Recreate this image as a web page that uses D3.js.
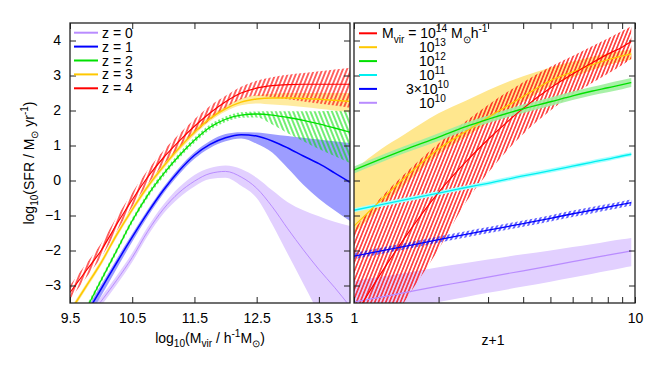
<!DOCTYPE html>
<html><head><meta charset="utf-8">
<script src="https://cdn.jsdelivr.net/npm/d3@7"></script>
<style>
body{margin:0;background:#fff;}
text{font-family:"Liberation Sans",Arial,Helvetica,sans-serif;fill:#000;}
</style></head>
<body><svg id="c" width="654" height="374"></svg>
<script>
// ---------- Left panel data: log10 SFR vs log10 Mvir ----------
const massGrid = [9.5,9.75,10.0,10.25,10.5,10.75,11.0,11.25,11.5,11.75,12.0,12.25,12.5,12.75,13.0,13.25,13.5,13.75,14.0];
const sfrZ0   = [-4.6,-4.0,-3.45,-2.85,-2.2,-1.45,-0.82,-0.35,-0.02,0.2,0.26,0.1,-0.22,-0.75,-1.38,-1.98,-2.54,-3.05,-3.6];
const sfrZ0Hi = [-4.45,-3.86,-3.32,-2.72,-2.07,-1.32,-0.69,-0.2,0.16,0.36,0.43,0.33,0.08,-0.28,-0.62,-0.85,-1.02,-1.18,-1.3];
const sfrZ0Lo = [-4.75,-4.14,-3.58,-2.98,-2.33,-1.58,-0.95,-0.5,-0.17,0.04,0.08,-0.15,-0.5,-1.25,-2.1,-2.95,-3.8,-4.6,-5.4];
const sfrZ1   = [-4.6,-3.85,-3.1,-2.35,-1.62,-0.92,-0.28,0.27,0.72,1.03,1.22,1.31,1.27,1.13,0.93,0.7,0.48,0.22,-0.05];
const sfrZ1Hi = [-4.48,-3.73,-2.98,-2.24,-1.52,-0.83,-0.19,0.36,0.81,1.13,1.33,1.38,1.37,1.32,1.27,1.22,1.17,1.12,1.07];
const sfrZ1Lo = [-4.8,-4.05,-3.3,-2.52,-1.75,-1.03,-0.38,0.17,0.62,0.93,1.12,1.2,1.05,0.8,0.35,-0.12,-0.52,-0.85,-1.16];
const sfrZ2   = [-4.5,-3.7,-2.85,-2.0,-1.15,-0.42,0.18,0.7,1.15,1.52,1.75,1.87,1.9,1.87,1.8,1.72,1.62,1.5,1.38];
const sfrZ2Hi = [-4.42,-3.62,-2.77,-1.92,-1.07,-0.34,0.26,0.78,1.23,1.6,1.83,1.95,1.97,1.98,1.98,1.98,1.98,1.99,2.0];
const sfrZ2Lo = [-4.58,-3.78,-2.93,-2.08,-1.23,-0.5,0.1,0.62,1.07,1.44,1.67,1.79,1.8,1.6,1.35,1.12,0.9,0.7,0.5];
const sfrZ3   = [-3.75,-3.05,-2.35,-1.55,-0.83,-0.17,0.4,0.92,1.38,1.77,2.05,2.24,2.33,2.36,2.36,2.34,2.32,2.29,2.26];
const sfrZ3Hi = [-3.67,-2.97,-2.27,-1.47,-0.75,-0.09,0.48,1.0,1.46,1.85,2.13,2.34,2.44,2.48,2.5,2.5,2.5,2.5,2.5];
const sfrZ3Lo = [-3.83,-3.13,-2.43,-1.63,-0.91,-0.25,0.32,0.84,1.3,1.69,1.97,2.15,2.2,2.17,2.14,2.1,2.05,2.0,1.95];
const sfrZ4   = [-3.2,-2.6,-2.0,-1.25,-0.55,0.1,0.65,1.12,1.55,1.93,2.25,2.5,2.64,2.71,2.74,2.75,2.75,2.75,2.75];
const sfrZ4Hi = [-3.0,-2.4,-1.8,-1.05,-0.35,0.3,0.85,1.32,1.75,2.13,2.42,2.68,2.85,2.95,3.02,3.07,3.12,3.17,3.22];
const sfrZ4Lo = [-3.4,-2.8,-2.2,-1.45,-0.75,-0.1,0.45,0.92,1.35,1.73,2.08,2.32,2.42,2.38,2.32,2.26,2.2,2.14,2.08];

// ---------- Right panel data: log10 SFR vs z+1 ----------
const zPlus1 = [1,1.25,1.5,2,2.5,3,4,5,6,7,8,9,9.7];
const sfrM14   = [-3.9,-2.64,-1.69,-0.34,0.53,1.17,2.06,2.64,3.04,3.35,3.61,3.81,3.97];
const sfrM14Hi = [-1.4,-0.48,0.16,1.06,1.69,2.16,2.81,3.25,3.56,3.83,4.06,4.27,4.41];
const sfrM14Lo = [-5.8,-4.54,-3.51,-1.96,-0.62,0.22,1.33,2.0,2.45,2.78,3.05,3.3,3.48];
const sfrM13   = [-1.3,-0.55,0.05,0.9,1.4,1.8,2.4,2.85,3.1,3.3,3.45,3.56,3.62];
const sfrM13Hi = [0.3,0.9,1.3,1.92,2.28,2.58,2.98,3.23,3.4,3.53,3.63,3.71,3.75];
const sfrM13Lo = [-1.5,-0.75,-0.15,0.75,1.25,1.65,2.25,2.7,2.95,3.15,3.3,3.4,3.45];
const sfrM12   = [0.3,0.62,0.87,1.24,1.54,1.75,2.05,2.25,2.42,2.55,2.65,2.74,2.8];
const sfrM12Hi = [0.4,0.72,0.97,1.35,1.65,1.86,2.17,2.37,2.54,2.67,2.78,2.87,2.93];
const sfrM12Lo = [0.2,0.52,0.77,1.13,1.43,1.64,1.93,2.13,2.3,2.43,2.52,2.61,2.67];
const sfrM11   = [-0.85,-0.69,-0.56,-0.36,-0.2,-0.08,0.13,0.28,0.41,0.52,0.61,0.7,0.75];
const sfrM11Hi = [-0.79,-0.63,-0.5,-0.3,-0.14,-0.02,0.19,0.34,0.47,0.58,0.67,0.76,0.81];
const sfrM11Lo = [-0.91,-0.75,-0.62,-0.42,-0.26,-0.14,0.07,0.22,0.35,0.46,0.55,0.64,0.69];
const sfrM3e10   = [-2.16,-2.01,-1.89,-1.69,-1.54,-1.42,-1.23,-1.08,-0.95,-0.85,-0.76,-0.68,-0.63];
const sfrM3e10Hi = [-2.07,-1.92,-1.8,-1.6,-1.45,-1.33,-1.14,-0.99,-0.86,-0.76,-0.67,-0.59,-0.54];
const sfrM3e10Lo = [-2.25,-2.1,-1.98,-1.78,-1.63,-1.51,-1.32,-1.17,-1.04,-0.94,-0.85,-0.77,-0.72];
const sfrM10   = [-3.47,-3.33,-3.21,-3.02,-2.88,-2.76,-2.58,-2.44,-2.32,-2.22,-2.13,-2.06,-2.01];
const sfrM10Hi = [-2.87,-2.75,-2.65,-2.48,-2.36,-2.26,-2.11,-2.0,-1.9,-1.82,-1.74,-1.68,-1.64];
const sfrM10Lo = [-3.92,-3.78,-3.66,-3.47,-3.33,-3.21,-3.03,-2.89,-2.77,-2.67,-2.58,-2.5,-2.45];

// ---------- ticks & labels ----------
const yTicks = [-3,-2,-1,0,1,2,3,4];
const massTicks = [9.5,10.5,11.5,12.5,13.5];
const zTicks = [1,2,3,4,5,6,7,8,9,10];
const zTickLabels = {1:"1",10:"10"};
const leftLegend = ["z = 0","z = 1","z = 2","z = 3","z = 4"];

const C = {
  lav:"#b98cff", lavFill:"#e2d0ff",
  blue:"#0000ff", blueFill:"#9d9dff",
  green:"#00e000", greenFill:"#9fef9f",
  yellow:"#ffc800", yellowFill:"#ffe78e",
  red:"#ff0000", cyan:"#00f0f0", cyanFill:"#a8ffff"
};

const svg = d3.select("#c");
const yScale = d3.scaleLinear().domain([-3.5,4.5]).range([303,23]);
const xL = d3.scaleLinear().domain([9.5,14]).range([70,350]);
const xR = d3.scaleLog().domain([1,10]).range([354,635]);

const defs = svg.append("defs");
function hatch(id, color, angle, w, sw){
  const p = defs.append("pattern").attr("id",id).attr("patternUnits","userSpaceOnUse")
    .attr("width",w).attr("height",10).attr("patternTransform",`rotate(${angle})`);
  p.append("line").attr("x1",w/2).attr("x2",w/2).attr("y1",0).attr("y2",10)
    .attr("stroke",color).attr("stroke-width",sw);
}
hatch("hRedL", C.red, 22, 3.8, 1.2);
hatch("hGreenL", C.green, -22, 4, 1.1);
hatch("hRedR", C.red, 22, 3.4, 1.25);
hatch("hBlueR", C.blue, 25, 4, 1.2);

defs.append("clipPath").attr("id","clipL").append("rect").attr("x",70).attr("y",23).attr("width",280).attr("height",280);
defs.append("clipPath").attr("id","clipR").append("rect").attr("x",354).attr("y",23).attr("width",281).attr("height",280);

function band(g, xs, xsc, lo, hi, fill, op){
  const a = d3.area().x((d,i)=>xsc(xs[i])).y0((d,i)=>yScale(lo[i])).y1((d,i)=>yScale(hi[i])).curve(d3.curveMonotoneX);
  g.append("path").attr("d", a(xs)).attr("fill", fill).attr("fill-opacity", op);
}
function line(g, xs, xsc, v, color, w){
  const l = d3.line().x((d,i)=>xsc(xs[i])).y((d,i)=>yScale(v[i])).curve(d3.curveMonotoneX);
  g.append("path").attr("d", l(xs)).attr("fill","none").attr("stroke",color).attr("stroke-width",w);
}

// ---------- Left panel ----------
const gL = svg.append("g").attr("clip-path","url(#clipL)");
band(gL, massGrid, xL, sfrZ0Lo, sfrZ0Hi, C.lavFill, 1);
band(gL, massGrid, xL, sfrZ1Lo, sfrZ1Hi, C.blueFill, 1);
band(gL, massGrid, xL, sfrZ2Lo, sfrZ2Hi, "url(#hGreenL)", 1);
band(gL, massGrid, xL, sfrZ3Lo, sfrZ3Hi, C.yellowFill, 0.85);
band(gL, massGrid, xL, sfrZ4Lo, sfrZ4Hi, "url(#hRedL)", 1);
line(gL, massGrid, xL, sfrZ0, C.lav, 1);
line(gL, massGrid, xL, sfrZ1, C.blue, 1.5);
line(gL, massGrid, xL, sfrZ2, C.green, 1.3);
line(gL, massGrid, xL, sfrZ3, C.yellow, 1.5);
line(gL, massGrid, xL, sfrZ4, C.red, 1.2);

// ---------- Right panel ----------
const gR = svg.append("g").attr("clip-path","url(#clipR)");
band(gR, zPlus1, xR, sfrM10Lo, sfrM10Hi, C.lavFill, 1);
band(gR, zPlus1, xR, sfrM13Lo, sfrM13Hi, C.yellowFill, 1);
band(gR, zPlus1, xR, sfrM14Lo, sfrM14Hi, "url(#hRedR)", 1);
band(gR, zPlus1, xR, sfrM12Lo, sfrM12Hi, C.greenFill, 0.9);
band(gR, zPlus1, xR, sfrM11Lo, sfrM11Hi, C.cyanFill, 1);
band(gR, zPlus1, xR, sfrM3e10Lo, sfrM3e10Hi, "url(#hBlueR)", 1);
line(gR, zPlus1, xR, sfrM10, C.lav, 1.2);
line(gR, zPlus1, xR, sfrM13, C.yellow, 1.2);
line(gR, zPlus1, xR, sfrM14, C.red, 1.2);
line(gR, zPlus1, xR, sfrM12, C.green, 1.3);
line(gR, zPlus1, xR, sfrM11, C.cyan, 1.3);
line(gR, zPlus1, xR, sfrM3e10, C.blue, 1.3);

// ---------- Axes ----------
function styleAxis(g){ g.select(".domain").remove(); g.selectAll(".tick line").attr("stroke","#222").attr("stroke-width",1);
  g.selectAll("text").style("font-family",'"Liberation Sans",Arial,sans-serif').style("font-size","14px").attr("fill","#000"); }
const fmtMass = d=>d3.format(".1f")(d);
svg.append("g").attr("transform","translate(0,303)").call(d3.axisBottom(xL).tickValues(massTicks).tickFormat(fmtMass).tickSizeInner(-6).tickSizeOuter(0).tickPadding(10)).call(styleAxis);
svg.append("g").attr("transform","translate(0,23)").call(d3.axisTop(xL).tickValues(massTicks).tickFormat("").tickSizeInner(-6).tickSizeOuter(0)).call(styleAxis);
svg.append("g").attr("transform","translate(70,0)").call(d3.axisLeft(yScale).tickValues(yTicks).tickFormat(d3.format("d")).tickSizeInner(-6).tickSizeOuter(0).tickPadding(9)).call(styleAxis);
svg.append("g").attr("transform","translate(350,0)").call(d3.axisRight(yScale).tickValues(yTicks).tickFormat("").tickSizeInner(-6).tickSizeOuter(0)).call(styleAxis);

svg.append("g").attr("transform","translate(0,303)").call(d3.axisBottom(xR).tickValues(zTicks).tickFormat(d=>zTickLabels[d]||"").tickSizeInner(-6).tickSizeOuter(0).tickPadding(10)).call(styleAxis);
svg.append("g").attr("transform","translate(0,23)").call(d3.axisTop(xR).tickValues(zTicks).tickFormat("").tickSizeInner(-6).tickSizeOuter(0)).call(styleAxis);
svg.append("g").attr("transform","translate(354,0)").call(d3.axisLeft(yScale).tickValues(yTicks).tickFormat("").tickSizeInner(-6).tickSizeOuter(0)).call(styleAxis);
svg.append("g").attr("transform","translate(635,0)").call(d3.axisRight(yScale).tickValues(yTicks).tickFormat("").tickSizeInner(-6).tickSizeOuter(0)).call(styleAxis);

svg.append("rect").attr("x",70).attr("y",23).attr("width",280).attr("height",280).attr("fill","none").attr("stroke","#222").attr("stroke-width",1.3);
svg.append("rect").attr("x",354).attr("y",23).attr("width",281).attr("height",280).attr("fill","none").attr("stroke","#222").attr("stroke-width",1.3);

// ---------- rich text helper ----------
function rich(sel, parts, size){
  const sub = size*0.72;
  let cur = 0;
  parts.forEach(p=>{
    let target = p.s==="sub" ? size*0.3 : p.s==="sup" ? -size*0.42 : 0;
    sel.append("tspan").attr("dy", target-cur).style("font-size",(p.s? sub: size)+"px").text(p.t);
    cur = target;
  });
}
function txt(x,y,anchor){ return svg.append("text").attr("x",x).attr("y",y).attr("text-anchor",anchor||"start").style("font-size","14px"); }

// axis titles
rich(txt(210,343,"middle"), [{t:"log"},{t:"10",s:"sub"},{t:"(M"},{t:"vir",s:"sub"},{t:" / h"},{t:"-1",s:"sup"},{t:"M"},{t:"\u2299",s:"sub"},{t:")"}], 14);
txt(493,345,"middle").text("z+1");
const yl = svg.append("text").attr("transform","translate(34,163) rotate(-90)").attr("text-anchor","middle").style("font-size","14px");
rich(yl, [{t:"log"},{t:"10",s:"sub"},{t:"(SFR / M"},{t:"\u2299",s:"sub"},{t:" yr"},{t:"-1",s:"sup"},{t:")"}], 14);

// ---------- legends ----------
const leftColors = [C.lav, C.blue, C.green, C.yellow, C.red];
leftLegend.forEach((lab,i)=>{
  const y = 32.7 + i*13.9;
  svg.append("line").attr("x1",74).attr("x2",98).attr("y1",y).attr("y2",y).attr("stroke",leftColors[i]).attr("stroke-width",2);
  txt(102, y+5).text(lab);
});
const rightColors = [C.red, C.yellow, C.green, C.cyan, C.blue, C.lav];
const rightLegend = [
  {x:382, parts:[{t:"M"},{t:"vir",s:"sub"},{t:" = 10"},{t:"14",s:"sup"},{t:" M"},{t:"\u2299",s:"sub"},{t:"h"},{t:"-1",s:"sup"}]},
  {x:419, parts:[{t:"10"},{t:"13",s:"sup"}]},
  {x:419, parts:[{t:"10"},{t:"12",s:"sup"}]},
  {x:419, parts:[{t:"10"},{t:"11",s:"sup"}]},
  {x:406, parts:[{t:"3\u00d710"},{t:"10",s:"sup"}]},
  {x:419, parts:[{t:"10"},{t:"10",s:"sup"}]}
];
rightLegend.forEach((e,i)=>{
  const y = 33.3 + i*13.9;
  svg.append("line").attr("x1",359).attr("x2",377).attr("y1",y).attr("y2",y).attr("stroke",rightColors[i]).attr("stroke-width",2);
  rich(txt(e.x, y+5), e.parts, 14);
});
</script></body></html>
